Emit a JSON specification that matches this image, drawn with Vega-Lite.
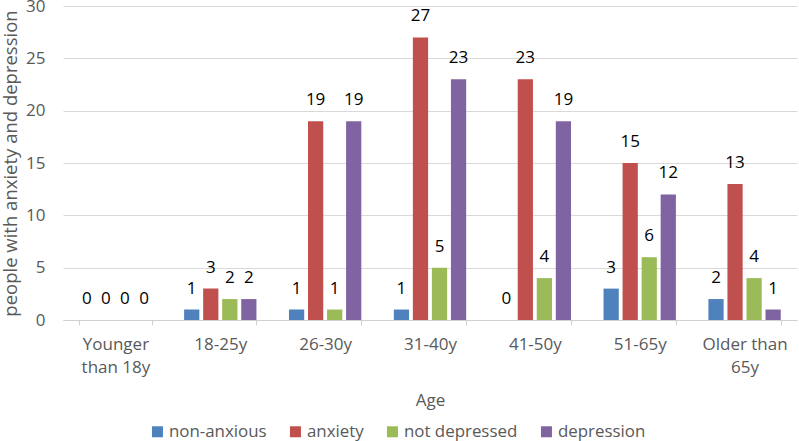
{
  "$schema": "https://vega.github.io/schema/vega-lite/v6.json",
  "width": 734,
  "height": 314,
  "autosize": {"type": "none"},
  "padding": {"left": 63, "top": 6, "right": 2, "bottom": 121},
  "background": "white",
  "config": {
    "view": {"stroke": null},
    "font": "Open Sans",
    "axis": {"labelFont": "Open Sans", "titleFont": "Open Sans", "labelColor": "#595959", "titleColor": "#595959", "titleFontWeight": "normal"},
    "legend": {"labelFont": "Open Sans"}
  },
  "data": {
    "values": [
      {"age": "Younger than 18y", "series": "non-anxious", "count": 0},
      {"age": "Younger than 18y", "series": "anxiety", "count": 0},
      {"age": "Younger than 18y", "series": "not depressed", "count": 0},
      {"age": "Younger than 18y", "series": "depression", "count": 0},
      {"age": "18-25y", "series": "non-anxious", "count": 1},
      {"age": "18-25y", "series": "anxiety", "count": 3},
      {"age": "18-25y", "series": "not depressed", "count": 2},
      {"age": "18-25y", "series": "depression", "count": 2},
      {"age": "26-30y", "series": "non-anxious", "count": 1},
      {"age": "26-30y", "series": "anxiety", "count": 19},
      {"age": "26-30y", "series": "not depressed", "count": 1},
      {"age": "26-30y", "series": "depression", "count": 19},
      {"age": "31-40y", "series": "non-anxious", "count": 1},
      {"age": "31-40y", "series": "anxiety", "count": 27},
      {"age": "31-40y", "series": "not depressed", "count": 5},
      {"age": "31-40y", "series": "depression", "count": 23},
      {"age": "41-50y", "series": "non-anxious", "count": 0},
      {"age": "41-50y", "series": "anxiety", "count": 23},
      {"age": "41-50y", "series": "not depressed", "count": 4},
      {"age": "41-50y", "series": "depression", "count": 19},
      {"age": "51-65y", "series": "non-anxious", "count": 3},
      {"age": "51-65y", "series": "anxiety", "count": 15},
      {"age": "51-65y", "series": "not depressed", "count": 6},
      {"age": "51-65y", "series": "depression", "count": 12},
      {"age": "Older than 65y", "series": "non-anxious", "count": 2},
      {"age": "Older than 65y", "series": "anxiety", "count": 13},
      {"age": "Older than 65y", "series": "not depressed", "count": 4},
      {"age": "Older than 65y", "series": "depression", "count": 1}
    ]
  },
  "encoding": {
    "x": {
      "field": "age", "type": "nominal", "sort": null,
      "scale": {"paddingInner": 0.31, "paddingOuter": 0.155},
      "axis": {
        "title": "Age", "titleFontSize": 17, "titlePadding": 17,
        "labelAngle": 0, "labelFontSize": 17, "labelPadding": 11,
        "labelExpr": "datum.value == 'Younger than 18y' ? ['Younger', 'than 18y'] : datum.value == 'Older than 65y' ? ['Older than', '65y'] : datum.value",
        "labelLineHeight": 23,
        "domainColor": "#d0d0d0", "tickColor": "#d0d0d0", "tickSize": 5, "tickBand": "extent", "grid": false
      }
    },
    "xOffset": {"field": "series", "type": "nominal", "sort": ["non-anxious", "anxiety", "not depressed", "depression"], "scale": {"paddingInner": 0.2}},
    "y": {
      "field": "count", "type": "quantitative",
      "scale": {"domain": [0, 30], "nice": false},
      "axis": {
        "title": "people with anxiety and depression", "titleFontSize": 18.5, "titlePadding": 5,
        "values": [0, 5, 10, 15, 20, 25, 30], "labelFontSize": 17, "labelPadding": 18,
        "domain": false, "ticks": false, "gridColor": "#d9d9d9"
      }
    }
  },
  "layer": [
    {
      "mark": {"type": "bar"},
      "encoding": {
        "color": {
          "field": "series", "type": "nominal",
          "sort": ["non-anxious", "anxiety", "not depressed", "depression"],
          "scale": {"domain": ["non-anxious", "anxiety", "not depressed", "depression"], "range": ["#4F81BD", "#C0504D", "#9BBB59", "#8064A2"]},
          "legend": {"title": null, "orient": "none", "legendX": 86, "legendY": 417, "direction": "horizontal", "symbolType": "square", "symbolSize": 121, "symbolStrokeWidth": 0, "labelFontSize": 16.9, "labelColor": "#595959", "labelOffset": 3, "columnPadding": 20}
        }
      }
    },
    {
      "mark": {"type": "text", "dy": -21, "fontSize": 17, "color": "#000000"},
      "encoding": {"text": {"field": "count", "type": "quantitative"}}
    }
  ]
}
